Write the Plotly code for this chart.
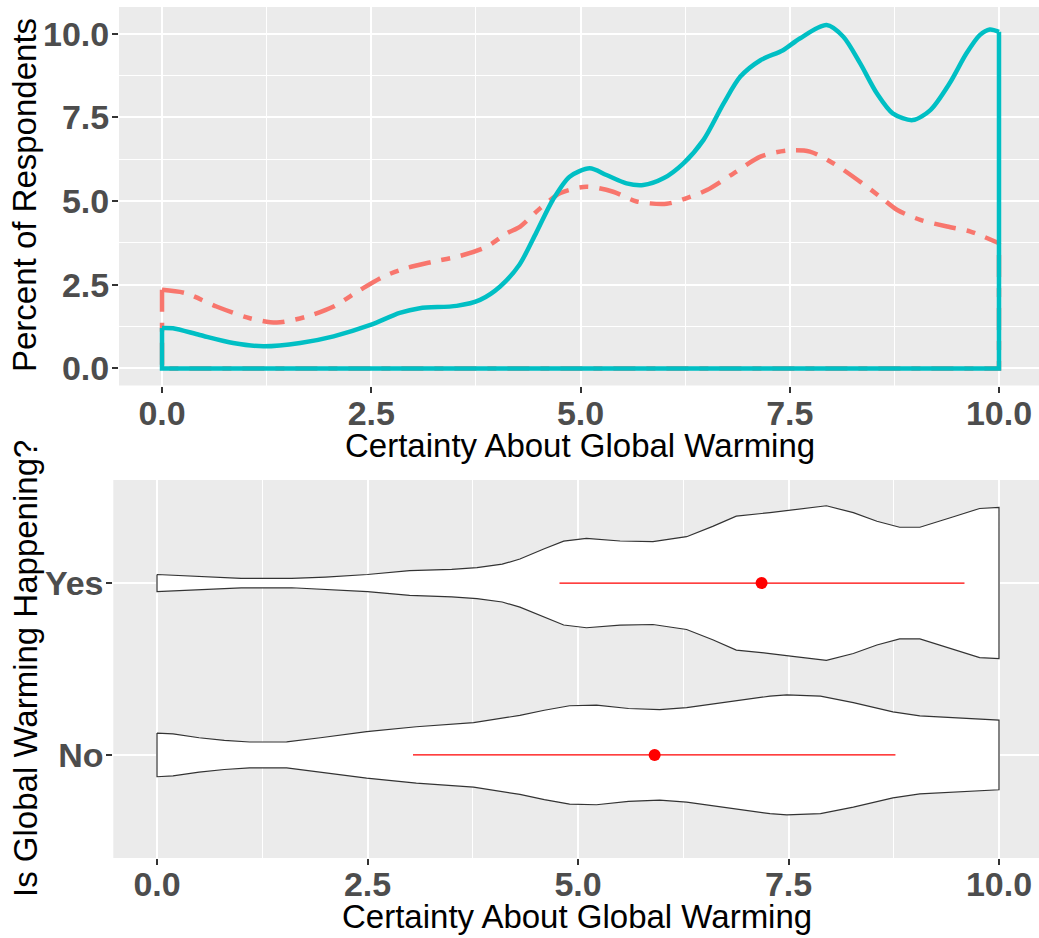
import plotly.graph_objects as go

# ---------------- data ----------------
# Top panel: density (percent of respondents) by group
yes_x = [0.0, 0.13, 0.45, 0.85, 1.21, 1.65, 2.05, 2.49, 2.84, 3.08, 3.52, 3.80, 4.04, 4.27,
         4.47, 4.67, 4.87, 5.11, 5.31, 5.55, 5.75, 5.99, 6.23, 6.47, 6.71, 6.91, 7.15, 7.42,
         7.62, 7.94, 8.14, 8.34, 8.54, 8.73, 8.97, 9.18, 9.41, 9.61, 9.77, 9.89, 10.0]
yes_pct = [1.21, 1.20, 1.00, 0.76, 0.66, 0.76, 0.96, 1.30, 1.66, 1.80, 1.87, 2.05, 2.45, 3.10,
           4.05, 5.04, 5.73, 5.98, 5.78, 5.53, 5.48, 5.68, 6.13, 6.83, 7.92, 8.72, 9.21, 9.51,
           9.86, 10.26, 9.91, 9.12, 8.22, 7.62, 7.42, 7.72, 8.52, 9.41, 9.96, 10.13, 10.06]

no_x = [0.0, 0.28, 0.65, 1.05, 1.37, 1.73, 2.05, 2.37, 2.65, 2.92, 3.24, 3.56, 3.88, 4.12,
        4.28, 4.52, 4.76, 5.07, 5.39, 5.67, 6.03, 6.27, 6.51, 6.83, 7.15, 7.47, 7.74, 8.02,
        8.34, 8.58, 8.78, 9.06, 9.38, 9.66, 10.0]
no_pct = [2.35, 2.25, 1.85, 1.50, 1.37, 1.55, 1.85, 2.35, 2.75, 3.00, 3.19, 3.36, 3.64, 4.04,
          4.24, 4.79, 5.24, 5.43, 5.28, 4.99, 4.92, 5.09, 5.33, 5.83, 6.33, 6.51, 6.48, 6.13,
          5.58, 5.13, 4.74, 4.44, 4.24, 4.09, 3.74]

# Bottom panel: violin half-widths (in category units)
vyes_x = [0.0, 0.5, 1.0, 1.6, 2.0, 2.5, 3.0, 3.5, 3.8, 4.1, 4.31, 4.6, 4.83, 5.1, 5.5, 5.89,
          6.29, 6.6, 6.88, 7.28, 7.6, 7.95, 8.27, 8.55, 8.82, 9.06, 9.46, 9.77, 10.0]
vyes_hw = [0.050, 0.040, 0.028, 0.027, 0.035, 0.050, 0.072, 0.080, 0.090, 0.110, 0.140, 0.200,
           0.244, 0.260, 0.245, 0.241, 0.270, 0.330, 0.390, 0.410, 0.430, 0.450, 0.410, 0.360,
           0.325, 0.325, 0.386, 0.434, 0.440]

vno_x = [0.0, 0.19, 0.5, 0.8, 1.1, 1.54, 1.94, 2.49, 3.08, 3.76, 4.31, 4.6, 4.9, 5.22, 5.6,
         5.97, 6.29, 6.8, 7.28, 7.48, 7.88, 8.27, 8.74, 9.06, 9.5, 10.0]
vno_hw = [0.127, 0.122, 0.100, 0.085, 0.075, 0.076, 0.100, 0.135, 0.164, 0.188, 0.230, 0.260,
          0.286, 0.290, 0.270, 0.263, 0.275, 0.310, 0.342, 0.349, 0.342, 0.304, 0.250, 0.227,
          0.215, 0.203]

groups = ["No", "Yes"]
group_pos = [1, 2]
means = [5.91, 7.18]
lows = [3.04, 4.78]
highs = [8.77, 9.59]

x_ticks = [0, 2.5, 5, 7.5, 10]
x_ticklabels = ["0.0", "2.5", "5.0", "7.5", "10.0"]
y_ticks = [0, 2.5, 5, 7.5, 10]
y_ticklabels = ["0.0", "2.5", "5.0", "7.5", "10.0"]
minor_ticks = [1.25, 3.75, 6.25, 8.75]

# ---------------- style ----------------
W, H = 1039, 938
TEAL = "#00BFC4"
SALMON = "#F8766D"
FONT = "Liberation Sans"
TICKFONT = dict(family=FONT, size=34, color="#4D4D4D", weight="bold")
TITLEFONT = dict(family=FONT, size=33, color="black")
DASH = "22px,11px,9px,11px"

fig = go.Figure()

# --- top panel: densities ---
fig.add_trace(go.Scatter(x=[no_x[0], no_x[0], no_x[-1], no_x[-1]],
                         y=[no_pct[0], 0, 0, no_pct[-1]], mode="lines",
                         line=dict(color=SALMON, width=4.5, dash=DASH),
                         xaxis="x", yaxis="y", showlegend=False, hoverinfo="skip"))
fig.add_trace(go.Scatter(x=no_x, y=no_pct, mode="lines",
                         line=dict(color=SALMON, width=4.5, dash=DASH,
                                   shape="spline", smoothing=0.8),
                         xaxis="x", yaxis="y", showlegend=False, name="No"))
fig.add_trace(go.Scatter(x=[yes_x[0], yes_x[0], yes_x[-1], yes_x[-1]],
                         y=[yes_pct[0], 0, 0, yes_pct[-1]], mode="lines",
                         line=dict(color=TEAL, width=4.5),
                         xaxis="x", yaxis="y", showlegend=False, hoverinfo="skip"))
fig.add_trace(go.Scatter(x=yes_x, y=yes_pct, mode="lines",
                         line=dict(color=TEAL, width=4.5, shape="spline", smoothing=0.8),
                         xaxis="x", yaxis="y", showlegend=False, name="Yes"))

# --- bottom panel: violins ---
for vx, vhw, pos in [(vno_x, vno_hw, 1), (vyes_x, vyes_hw, 2)]:
    px = list(vx) + list(vx[::-1]) + [vx[0]]
    py = [pos + h for h in vhw] + [pos - h for h in vhw[::-1]] + [pos + vhw[0]]
    fig.add_trace(go.Scatter(x=px, y=py, mode="lines", fill="toself", fillcolor="white",
                             line=dict(color="#333333", width=1.2),
                             xaxis="x2", yaxis="y2", showlegend=False, hoverinfo="skip"))

for g, pos, m, lo, hi in zip(groups, group_pos, means, lows, highs):
    fig.add_trace(go.Scatter(x=[lo, hi], y=[pos, pos], mode="lines",
                             line=dict(color="red", width=1.4),
                             xaxis="x2", yaxis="y2", showlegend=False, hoverinfo="skip"))
    fig.add_trace(go.Scatter(x=[m], y=[pos], mode="markers",
                             marker=dict(color="red", size=12),
                             xaxis="x2", yaxis="y2", showlegend=False, name=g))

common_axis = dict(showgrid=True, gridcolor="white", gridwidth=2, zeroline=False,
                   showline=False, ticks="outside", ticklen=6, tickwidth=1.5,
                   tickcolor="#333333", tickfont=TICKFONT, automargin=False, fixedrange=True)

fig.update_layout(
    width=W, height=H,
    margin=dict(l=0, r=0, t=0, b=0),
    paper_bgcolor="white",
    plot_bgcolor="#EBEBEB",
    xaxis=dict(domain=[119 / W, 1.0], range=[-0.514, 10.478], anchor="y",
               tickmode="array", tickvals=x_ticks, ticktext=x_ticklabels,
               ticklabelstandoff=-8,
               minor=dict(tickmode="array", tickvals=minor_ticks, showgrid=True,
                          gridcolor="white", gridwidth=1, ticks=""),
               **common_axis),
    yaxis=dict(domain=[1 - 385.5 / H, 1 - 7 / H], range=[-0.51, 10.80], anchor="x",
               tickmode="array", tickvals=y_ticks, ticktext=y_ticklabels,
               ticklabelstandoff=-4,
               minor=dict(tickmode="array", tickvals=minor_ticks, showgrid=True,
                          gridcolor="white", gridwidth=1, ticks=""),
               **common_axis),
    xaxis2=dict(domain=[113.3 / W, 1.0], range=[-0.519, 10.475], anchor="y2",
                tickmode="array", tickvals=x_ticks, ticktext=x_ticklabels,
                ticklabelstandoff=-10,
                minor=dict(tickmode="array", tickvals=minor_ticks, showgrid=True,
                           gridcolor="white", gridwidth=1, ticks=""),
                **common_axis),
    yaxis2=dict(domain=[1 - 858 / H, 1 - 480 / H], range=[0.4, 2.6], anchor="x2",
                tickmode="array", tickvals=group_pos, ticktext=groups,
                ticklabelstandoff=-4,
                **common_axis),
    annotations=[
        dict(text="Certainty About Global Warming", x=579.5 / W, y=1 - 445 / H,
             xref="paper", yref="paper", xanchor="center", yanchor="middle",
             showarrow=False, font=TITLEFONT),
        dict(text="Certainty About Global Warming", x=577 / W, y=1 - 916 / H,
             xref="paper", yref="paper", xanchor="center", yanchor="middle",
             showarrow=False, font=TITLEFONT),
        dict(text="Percent of Respondents", x=25 / W, y=1 - 195 / H, textangle=-90,
             xref="paper", yref="paper", xanchor="center", yanchor="middle",
             showarrow=False, font=TITLEFONT),
        dict(text="Is Global Warming Happening?", x=25 / W, y=1 - 669 / H, textangle=-90,
             xref="paper", yref="paper", xanchor="center", yanchor="middle",
             showarrow=False, font=TITLEFONT),
    ],
)

fig.write_html("out.html")
